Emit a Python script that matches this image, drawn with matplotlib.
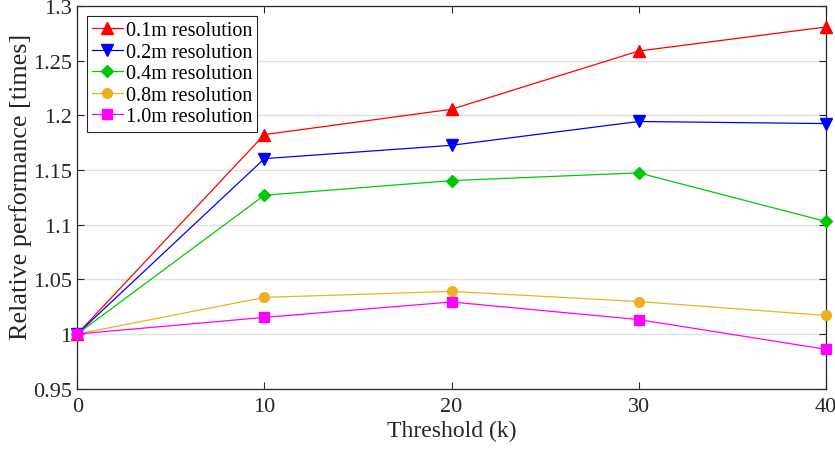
import numpy as np
import matplotlib
matplotlib.use('Agg')
import matplotlib.pyplot as plt

# data
thresholds = [0, 10, 20, 30, 40]
res_01 = [1.000, 1.1825, 1.2057, 1.2590, 1.2810]
res_02 = [1.000, 1.1605, 1.1727, 1.1945, 1.1926]
res_04 = [1.000, 1.1270, 1.1404, 1.1475, 1.1030]
res_08 = [1.000, 1.0335, 1.0390, 1.0297, 1.0170]
res_10 = [1.000, 1.0152, 1.0293, 1.0132, 0.9860]
labels = ['0.1m resolution', '0.2m resolution', '0.4m resolution',
          '0.8m resolution', '1.0m resolution']
yticks = [0.95, 1.0, 1.05, 1.1, 1.15, 1.2, 1.25, 1.3]
ytick_labels = ['0.95', '1', '1.05', '1.1', '1.15', '1.2', '1.25', '1.3']

plt.rcParams['font.family'] = ['Liberation Serif', 'DejaVu Serif']

fig = plt.figure(figsize=(8.35, 4.52), dpi=100)
ax = fig.add_axes([0.0925, 0.138, 0.8965, 0.846])

series = [res_01, res_02, res_04, res_08, res_10]
colors = ['#ff0000', '#0000ff', '#00c800', '#edb120', '#ff00ff']
markers = ['^', 'v', 'D', 'o', 's']
msizes = [8, 8, 6.5, 7, 6.5]
for ys, c, m, ms, lab in zip(series, colors, markers, msizes, labels):
    ax.plot(thresholds, ys, color=c, marker=m, markersize=ms,
            linewidth=0.9, label=lab, clip_on=False, zorder=3)

ax.set_xlim(0, 40)
ax.set_ylim(0.95, 1.3)
ax.set_xticks([0, 10, 20, 30, 40])
ax.set_yticks(yticks)
ax.set_yticklabels(ytick_labels)
ax.yaxis.grid(True, color='#e0e0e0', linewidth=1.0)
ax.set_axisbelow(True)
ax.tick_params(direction='in', top=True, right=True, length=5,
               width=0.8, colors='#262626', labelsize=16)
ax.tick_params(axis='x', pad=6)
ax.tick_params(axis='y', pad=4)
for sp in ax.spines.values():
    sp.set_color('#262626')
    sp.set_linewidth(0.9)

ax.set_xlabel('Threshold (k)', fontsize=17, color='#262626', labelpad=3)
ax.set_ylabel('Relative performance [times]', fontsize=18.8,
              color='#262626')
ax.yaxis.set_label_coords(-0.060, 0.53)

leg = ax.legend(loc='upper left', fontsize=14.5, frameon=True, fancybox=False,
                framealpha=1, edgecolor='#262626', borderpad=0.25,
                labelspacing=0.12, handlelength=1.5, handletextpad=0.15,
                borderaxespad=0.5)
leg.get_frame().set_linewidth(0.8)

fig.savefig('out.png', dpi=100)
